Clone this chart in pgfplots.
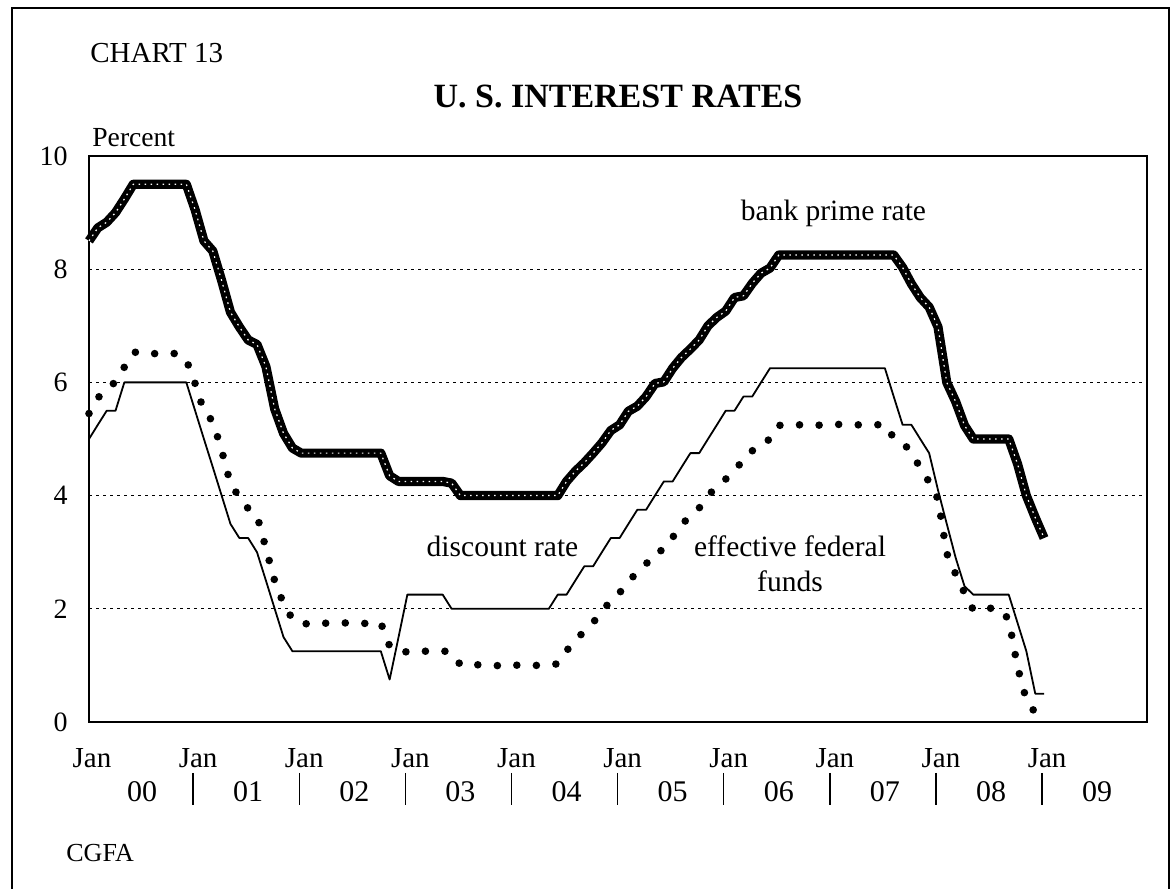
\documentclass[border=0pt]{standalone}
\usepackage{fontspec}
\setmainfont{Liberation Serif}
\usepackage{pgfplots}
\pgfplotsset{compat=1.18}
\usepackage{pgfplotstable}

% bank prime rate, monthly
\pgfplotstableread[row sep=\\]{x y\\
2000.000 8.50\\ 2000.083 8.73\\ 2000.167 8.83\\ 2000.250 9.00\\ 2000.333 9.24\\ 2000.417 9.50\\ 2000.500 9.50\\ 2000.583 9.50\\ 2000.667 9.50\\ 2000.750 9.50\\ 2000.833 9.50\\ 2000.917 9.50\\
2001.000 9.05\\ 2001.083 8.50\\ 2001.167 8.32\\ 2001.250 7.80\\ 2001.333 7.24\\ 2001.417 6.98\\ 2001.500 6.75\\ 2001.583 6.67\\ 2001.667 6.28\\ 2001.750 5.53\\ 2001.833 5.10\\ 2001.917 4.84\\
2002.000 4.75\\ 2002.083 4.75\\ 2002.167 4.75\\ 2002.250 4.75\\ 2002.333 4.75\\ 2002.417 4.75\\ 2002.500 4.75\\ 2002.583 4.75\\ 2002.667 4.75\\ 2002.750 4.75\\ 2002.833 4.35\\ 2002.917 4.25\\
2003.000 4.25\\ 2003.083 4.25\\ 2003.167 4.25\\ 2003.250 4.25\\ 2003.333 4.25\\ 2003.417 4.22\\ 2003.500 4.00\\ 2003.583 4.00\\ 2003.667 4.00\\ 2003.750 4.00\\ 2003.833 4.00\\ 2003.917 4.00\\
2004.000 4.00\\ 2004.083 4.00\\ 2004.167 4.00\\ 2004.250 4.00\\ 2004.333 4.00\\ 2004.417 4.00\\ 2004.500 4.25\\ 2004.583 4.43\\ 2004.667 4.58\\ 2004.750 4.75\\ 2004.833 4.93\\ 2004.917 5.15\\
2005.000 5.25\\ 2005.083 5.49\\ 2005.167 5.58\\ 2005.250 5.75\\ 2005.333 5.98\\ 2005.417 6.01\\ 2005.500 6.25\\ 2005.583 6.44\\ 2005.667 6.59\\ 2005.750 6.75\\ 2005.833 7.00\\ 2005.917 7.15\\
2006.000 7.26\\ 2006.083 7.50\\ 2006.167 7.53\\ 2006.250 7.75\\ 2006.333 7.93\\ 2006.417 8.02\\ 2006.500 8.25\\ 2006.583 8.25\\ 2006.667 8.25\\ 2006.750 8.25\\ 2006.833 8.25\\ 2006.917 8.25\\
2007.000 8.25\\ 2007.083 8.25\\ 2007.167 8.25\\ 2007.250 8.25\\ 2007.333 8.25\\ 2007.417 8.25\\ 2007.500 8.25\\ 2007.583 8.25\\ 2007.667 8.03\\ 2007.750 7.74\\ 2007.833 7.50\\ 2007.917 7.33\\
2008.000 6.98\\ 2008.083 6.00\\ 2008.167 5.66\\ 2008.250 5.24\\ 2008.333 5.00\\ 2008.417 5.00\\ 2008.500 5.00\\ 2008.583 5.00\\ 2008.667 5.00\\ 2008.750 4.56\\ 2008.833 4.00\\ 2008.917 3.61\\
2009.000 3.25\\
}\primetab

% effective federal funds, monthly
\pgfplotstableread[row sep=\\]{x y\\
2000.000 5.45\\ 2000.083 5.73\\ 2000.167 5.85\\ 2000.250 6.02\\ 2000.333 6.27\\ 2000.417 6.53\\ 2000.500 6.54\\ 2000.583 6.50\\ 2000.667 6.52\\ 2000.750 6.51\\ 2000.833 6.51\\ 2000.917 6.40\\
2001.000 5.98\\ 2001.083 5.49\\ 2001.167 5.31\\ 2001.250 4.80\\ 2001.333 4.21\\ 2001.417 3.97\\ 2001.500 3.77\\ 2001.583 3.65\\ 2001.667 3.07\\ 2001.750 2.49\\ 2001.833 2.09\\ 2001.917 1.82\\
2002.000 1.73\\ 2002.083 1.74\\ 2002.167 1.73\\ 2002.250 1.75\\ 2002.333 1.75\\ 2002.417 1.75\\ 2002.500 1.73\\ 2002.583 1.74\\ 2002.667 1.75\\ 2002.750 1.75\\ 2002.833 1.34\\ 2002.917 1.24\\
2003.000 1.24\\ 2003.083 1.26\\ 2003.167 1.25\\ 2003.250 1.26\\ 2003.333 1.26\\ 2003.417 1.22\\ 2003.500 1.01\\ 2003.583 1.03\\ 2003.667 1.01\\ 2003.750 1.01\\ 2003.833 1.00\\ 2003.917 0.98\\
2004.000 1.00\\ 2004.083 1.01\\ 2004.167 1.00\\ 2004.250 1.00\\ 2004.333 1.00\\ 2004.417 1.03\\ 2004.500 1.26\\ 2004.583 1.43\\ 2004.667 1.61\\ 2004.750 1.76\\ 2004.833 1.93\\ 2004.917 2.16\\
2005.000 2.28\\ 2005.083 2.50\\ 2005.167 2.63\\ 2005.250 2.79\\ 2005.333 3.00\\ 2005.417 3.04\\ 2005.500 3.26\\ 2005.583 3.50\\ 2005.667 3.62\\ 2005.750 3.78\\ 2005.833 4.00\\ 2005.917 4.16\\
2006.000 4.29\\ 2006.083 4.49\\ 2006.167 4.59\\ 2006.250 4.79\\ 2006.333 4.94\\ 2006.417 4.99\\ 2006.500 5.24\\ 2006.583 5.25\\ 2006.667 5.25\\ 2006.750 5.25\\ 2006.833 5.25\\ 2006.917 5.24\\
2007.000 5.25\\ 2007.083 5.26\\ 2007.167 5.26\\ 2007.250 5.25\\ 2007.333 5.25\\ 2007.417 5.25\\ 2007.500 5.26\\ 2007.583 5.02\\ 2007.667 4.94\\ 2007.750 4.76\\ 2007.833 4.49\\ 2007.917 4.24\\
2008.000 3.94\\ 2008.083 2.98\\ 2008.167 2.61\\ 2008.250 2.28\\ 2008.333 1.98\\ 2008.417 2.00\\ 2008.500 2.01\\ 2008.583 2.00\\ 2008.667 1.81\\ 2008.750 0.97\\ 2008.833 0.39\\ 2008.917 0.16\\
2009.000 0.15\\
}\fedtab

% discount rate, monthly
\pgfplotstableread[row sep=\\]{x y\\
2000.000 5.00\\ 2000.083 5.25\\ 2000.167 5.50\\ 2000.250 5.50\\ 2000.333 6.00\\ 2000.417 6.00\\ 2000.500 6.00\\ 2000.583 6.00\\ 2000.667 6.00\\ 2000.750 6.00\\ 2000.833 6.00\\ 2000.917 6.00\\
2001.000 5.50\\ 2001.083 5.00\\ 2001.167 4.50\\ 2001.250 4.00\\ 2001.333 3.50\\ 2001.417 3.25\\ 2001.500 3.25\\ 2001.583 3.00\\ 2001.667 2.50\\ 2001.750 2.00\\ 2001.833 1.50\\ 2001.917 1.25\\
2002.000 1.25\\ 2002.083 1.25\\ 2002.167 1.25\\ 2002.250 1.25\\ 2002.333 1.25\\ 2002.417 1.25\\ 2002.500 1.25\\ 2002.583 1.25\\ 2002.667 1.25\\ 2002.750 1.25\\ 2002.833 0.75\\ 2002.917 1.50\\
2003.000 2.25\\ 2003.083 2.25\\ 2003.167 2.25\\ 2003.250 2.25\\ 2003.333 2.25\\ 2003.417 2.00\\ 2003.500 2.00\\ 2003.583 2.00\\ 2003.667 2.00\\ 2003.750 2.00\\ 2003.833 2.00\\ 2003.917 2.00\\
2004.000 2.00\\ 2004.083 2.00\\ 2004.167 2.00\\ 2004.250 2.00\\ 2004.333 2.00\\ 2004.417 2.25\\ 2004.500 2.25\\ 2004.583 2.50\\ 2004.667 2.75\\ 2004.750 2.75\\ 2004.833 3.00\\ 2004.917 3.25\\
2005.000 3.25\\ 2005.083 3.50\\ 2005.167 3.75\\ 2005.250 3.75\\ 2005.333 4.00\\ 2005.417 4.25\\ 2005.500 4.25\\ 2005.583 4.50\\ 2005.667 4.75\\ 2005.750 4.75\\ 2005.833 5.00\\ 2005.917 5.25\\
2006.000 5.50\\ 2006.083 5.50\\ 2006.167 5.75\\ 2006.250 5.75\\ 2006.333 6.00\\ 2006.417 6.25\\ 2006.500 6.25\\ 2006.583 6.25\\ 2006.667 6.25\\ 2006.750 6.25\\ 2006.833 6.25\\ 2006.917 6.25\\
2007.000 6.25\\ 2007.083 6.25\\ 2007.167 6.25\\ 2007.250 6.25\\ 2007.333 6.25\\ 2007.417 6.25\\ 2007.500 6.25\\ 2007.583 5.75\\ 2007.667 5.25\\ 2007.750 5.25\\ 2007.833 5.00\\ 2007.917 4.75\\
2008.000 4.10\\ 2008.083 3.50\\ 2008.167 2.90\\ 2008.250 2.40\\ 2008.333 2.25\\ 2008.417 2.25\\ 2008.500 2.25\\ 2008.583 2.25\\ 2008.667 2.25\\ 2008.750 1.75\\ 2008.833 1.25\\ 2008.917 0.50\\
2009.000 0.50\\
}\disctab

\begin{document}
\begin{tikzpicture}[x=0.5pt,y=0.5pt]
\useasboundingbox (0,0) rectangle (1174,889);
\draw[line width=0.7pt] (12,-10) -- (12,881) -- (1169,881) -- (1169,-10);

\begin{axis}[
  at={(44.5pt,83.5pt)}, anchor=south west,
  scale only axis, width=529pt, height=283pt,
  xmin=2000, xmax=2009.97, ymin=0, ymax=10,
  clip=false,
  axis line style={line width=0.6pt},
  ytick={0,2,4,6,8,10},
  ytick style={draw=none},
  /pgf/number format/assume math mode=true,
  yticklabel style={font=\fontsize{14}{16}\selectfont, inner sep=0pt, anchor=east, xshift=-10.5pt},
  ymajorgrids,
  major grid style={line width=0.5pt, black, dash pattern=on 1.5pt off 2pt},
  xtick={2000,2001,2002,2003,2004,2005,2006,2007,2008,2009},
  xticklabels={Jan,Jan,Jan,Jan,Jan,Jan,Jan,Jan,Jan,Jan},
  xtick style={draw=none},
  xticklabel style={font=\fontsize{14.5}{17}\selectfont, inner sep=0pt, anchor=base, yshift=-23pt, xshift=1.5pt},
  extra x ticks={2000.5,2001.5,2002.5,2003.5,2004.5,2005.5,2006.5,2007.5,2008.5,2009.5},
  extra x tick labels={00,01,02,03,04,05,06,07,08,09},
  extra x tick style={tick style={draw=none}, grid=none, xticklabel style={yshift=-17pt, xshift=-1.5pt, font=\fontsize{15}{17}\selectfont}},
]
\addplot[black, line width=0.9pt, line join=round] table[x=x,y=y] {\disctab};
\addplot[black, line width=3.8pt, line cap=round, dash pattern=on 0pt off 9.8pt] table[x=x,y=y] {\fedtab};
\addplot[black, line width=4.6pt, line join=round] table[x=x,y=y] {\primetab};
\addplot[white, line width=0.6pt, line join=round, dash pattern=on 0.8pt off 2.2pt] table[x=x,y=y] {\primetab};
\pgfplotsinvokeforeach{2001,2002,2003,2004,2005,2006,2007,2008,2009}{
  \draw[line width=0.7pt] (axis cs:#1,0) ++(-1pt,-25.5pt) -- ++(0pt,-16pt);
}
\end{axis}

\node[anchor=base west, inner sep=0pt, font=\fontsize{14.5}{17}\selectfont] at (90,826) {CHART 13};
\node[anchor=base, inner sep=0pt, font=\bfseries\fontsize{17}{20}\selectfont] at (618,781) {U. S. INTEREST RATES};
\node[anchor=base west, inner sep=0pt, font=\fontsize{13.8}{16}\selectfont] at (92,742) {Percent};
\node[anchor=base west, inner sep=0pt, font=\fontsize{13}{15}\selectfont] at (66,27) {CGFA};
\node[anchor=base, inner sep=0pt, font=\fontsize{14.75}{17}\selectfont] at (833.5,668) {bank prime rate};
\node[anchor=base, inner sep=0pt, font=\fontsize{14.75}{17}\selectfont] at (502.5,332) {discount rate};
\node[anchor=base, inner sep=0pt, font=\fontsize{14.75}{17}\selectfont] at (790,332) {effective federal};
\node[anchor=base, inner sep=0pt, font=\fontsize{14.75}{17}\selectfont] at (790,297) {funds};
\end{tikzpicture}
\end{document}
